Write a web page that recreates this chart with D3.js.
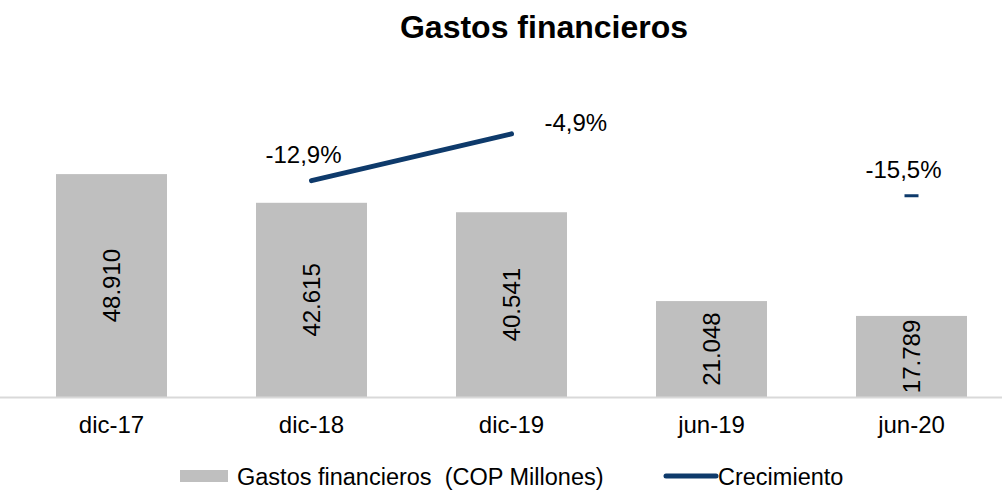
<!DOCTYPE html>
<html>
<head>
<meta charset="utf-8">
<script src="https://cdn.jsdelivr.net/npm/d3@7"></script>
<style>
  body { margin: 0; background: #fff; }
  text { font-family: "Liberation Sans", Arial, sans-serif; }
</style>
</head>
<body>
<div id="chart"></div>
<script>
const periods = ["dic-17", "dic-18", "dic-19", "jun-19", "jun-20"];
const gastos = [48910, 42615, 40541, 21048, 17789];
const crecimiento = [null, -12.9, -4.9, null, -15.5];
const growthLabelSide = ["above", "above", "right", "above", "above"];

const width = 1002, height = 491;
const plotTop = 47, plotBottom = 397;

const fmtNum = v => d3.format(",")(v).replace(/,/g, ".");
const fmtPct = v => v.toFixed(1).replace(".", ",") + "%";

let svg = d3.select("#chart").append("svg")
    .attr("width", width)
    .attr("height", height);

svg.append("text")
    .attr("x", 544)
    .attr("y", 38)
    .attr("text-anchor", "middle")
    .attr("font-size", 32)
    .attr("font-weight", "bold")
    .text("Gastos financieros");

let x = d3.scaleBand()
    .domain(periods)
    .range([11.5, 1011.5])
    .paddingInner(0.445)
    .paddingOuter(0.2225);

let y = d3.scaleLinear().domain([0, 76800]).range([plotBottom, plotTop]);
let y2 = d3.scaleLinear().domain([-50, 10]).range([plotBottom, plotTop]);

// bars
svg.selectAll("rect.bar")
    .data(gastos)
    .enter()
    .append("rect")
    .attr("class", "bar")
    .attr("x", (d, i) => x(periods[i]))
    .attr("y", d => y(d))
    .attr("width", x.bandwidth())
    .attr("height", d => y(0) - y(d))
    .attr("fill", "#bfbfbf");

// category axis
let axis = svg.append("g")
    .attr("transform", "translate(0," + plotBottom + ")")
    .call(d3.axisBottom(x).tickSize(0).tickPadding(19));
axis.select(".domain")
    .attr("stroke", "#d9d9d9")
    .attr("stroke-width", 2)
    .attr("d", "M0,0.5H" + width);
axis.selectAll("text")
    .attr("font-size", 24)
    .attr("fill", "#000")
    .attr("font-family", "Liberation Sans, Arial, sans-serif");

// value labels (rotated)
svg.selectAll("text.val")
    .data(gastos)
    .enter()
    .append("text")
    .attr("class", "val")
    .attr("transform", (d, i) => {
        let cx = x(periods[i]) + x.bandwidth() / 2;
        let cy = (y(d) + y(0)) / 2;
        return "translate(" + cx + "," + cy + ") rotate(-90)";
    })
    .attr("text-anchor", "middle")
    .attr("dy", "0.35em")
    .attr("font-size", 24)
    .attr("fill", "#000")
    .text(d => fmtNum(d));

// growth line
const navy = "#0e3a6b";
let pts = crecimiento.map((v, i) => ({ v: v, i: i }));
const isolated = i => crecimiento[i] !== null &&
    (i === 0 || crecimiento[i - 1] === null) &&
    (i === crecimiento.length - 1 || crecimiento[i + 1] === null);

let line = d3.line()
    .defined(d => d.v !== null && !isolated(d.i))
    .x(d => x(periods[d.i]) + x.bandwidth() / 2)
    .y(d => y2(d.v));

svg.append("path")
    .attr("d", line(pts))
    .attr("fill", "none")
    .attr("stroke", navy)
    .attr("stroke-width", 5)
    .attr("stroke-linecap", "round");

// isolated points get a short dash
pts.filter(d => isolated(d.i)).forEach(d => {
    let cx = x(periods[d.i]) + x.bandwidth() / 2;
    svg.append("line")
        .attr("x1", cx - 7).attr("x2", cx + 7)
        .attr("y1", y2(d.v)).attr("y2", y2(d.v))
        .attr("stroke", navy)
        .attr("stroke-width", 3);
});

// growth labels
pts.filter(d => d.v !== null).forEach(d => {
    let cx = x(periods[d.i]) + x.bandwidth() / 2;
    let cy = y2(d.v);
    let side = growthLabelSide[d.i];
    let t = svg.append("text")
        .attr("font-size", 24)
        .attr("fill", "#000")
        .text(fmtPct(d.v));
    if (side === "right") {
        t.attr("x", cx + 33).attr("y", cy - 3);
    } else {
        t.attr("x", cx - 8).attr("y", cy - 18).attr("text-anchor", "middle");
    }
});

// legend
let lg = svg.append("g");
lg.append("rect")
    .attr("x", 180).attr("y", 470)
    .attr("width", 48).attr("height", 12)
    .attr("fill", "#bfbfbf");
lg.append("text")
    .attr("x", 237).attr("y", 485)
    .attr("font-size", 23.5)
    .attr("xml:space", "preserve")
    .style("white-space", "pre")
    .text("Gastos financieros  (COP Millones)");
lg.append("line")
    .attr("x1", 666).attr("x2", 716)
    .attr("y1", 476).attr("y2", 476)
    .attr("stroke", navy)
    .attr("stroke-width", 5)
    .attr("stroke-linecap", "round");
lg.append("text")
    .attr("x", 718).attr("y", 485)
    .attr("font-size", 23.5)
    .text("Crecimiento");
</script>
</body>
</html>
